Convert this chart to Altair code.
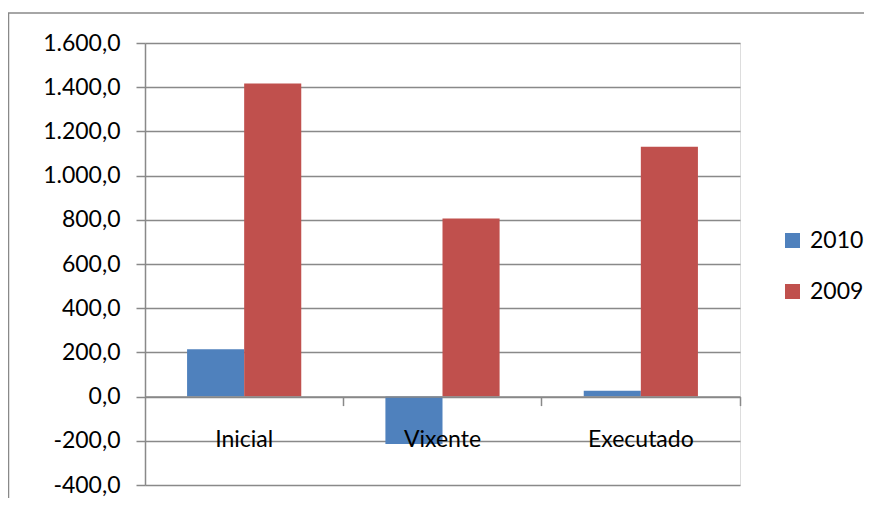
import altair as alt
import pandas as pd

categories = ["Inicial", "Vixente", "Executado"]
series = ["2010", "2009"]
values_2010 = [214, -214, 27]
values_2009 = [1417, 806, 1131]
y_ticks = [-400, -200, 0, 200, 400, 600, 800, 1000, 1200, 1400, 1600]
colors = ["#4F81BD", "#C0504D"]

rows = []
for c, a, b in zip(categories, values_2010, values_2009):
    rows.append({"cat": c, "serie": "2010", "valor": a})
    rows.append({"cat": c, "serie": "2009", "valor": b})
df = pd.DataFrame(rows)

GRAY = "#898989"
FONT = "Lato"
label_expr = ("replace(replace(replace(replace(format(datum.value, ',.1f'), ',', '_'), '.', ','), '_', '.'), '\u2212', '-')")

bars = alt.Chart(df).mark_bar(stroke=None).encode(
    x=alt.X(
        "cat:N", sort=categories, title=None,
        scale=alt.Scale(paddingInner=0, paddingOuter=0),
        axis=alt.Axis(
            labelAngle=0, bandPosition=1, ticks=True, tickSize=9, tickColor=GRAY,
            tickWidth=1.5, domainColor=GRAY, domainWidth=1.5, labelFont=FONT,
            labelFontSize=23, labelColor="black", labelBaseline="alphabetic",
            labelPadding=41, offset=-88.4, grid=False, zindex=1,
        ),
    ),
    xOffset=alt.XOffset(
        "serie:N", sort=series,
        scale=alt.Scale(paddingInner=0, paddingOuter=0.737),
    ),
    y=alt.Y(
        "valor:Q", title=None,
        scale=alt.Scale(domain=[-400, 1600], nice=False, zero=False),
        axis=alt.Axis(
            values=y_ticks, labelExpr=label_expr, grid=True, gridColor=GRAY,
            gridWidth=1.5, tickSize=9, tickColor=GRAY, tickWidth=1.5,
            domainColor=GRAY, domainWidth=1.5, labelFont=FONT, labelFontSize=23,
            labelColor="black", labelPadding=16,
        ),
    ),
    color=alt.Color(
        "serie:N", sort=series,
        scale=alt.Scale(domain=series, range=colors),
        legend=alt.Legend(
            title=None, orient="none", legendX=636, legendY=186, padding=0,
            symbolType="square", symbolSize=225, symbolStrokeWidth=0,
            labelFont=FONT, labelFontSize=23, labelColor="black",
            labelOffset=6, rowPadding=27,
        ),
    ),
)

frame_df = pd.DataFrame({"k": [0]})
left_border = alt.Chart(frame_df).mark_rule(color=GRAY, strokeWidth=1.5).encode(
    x=alt.value(-136.5), y=alt.value(-30), y2=alt.value(480)
)
top_border = alt.Chart(frame_df).mark_rule(color=GRAY, strokeWidth=1.5).encode(
    x=alt.value(-137), x2=alt.value(740), y=alt.value(-30)
)

chart = alt.layer(bars, left_border, top_border).properties(
    width=595, height=442,
    autosize=alt.AutoSizeParams(type="none"),
    padding={"left": 137, "top": 35, "right": 124, "bottom": 13},
).configure_view(stroke=None).configure(background="white")

chart.save("out.html", embed_options={"renderer": "svg", "actions": False})
